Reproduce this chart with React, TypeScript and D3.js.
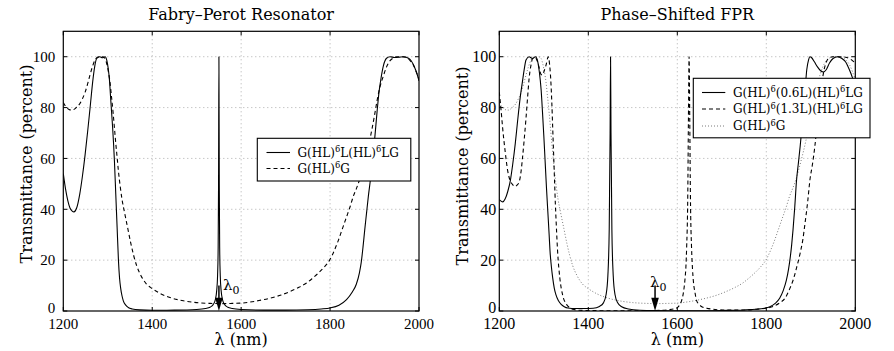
import React from 'react';
import * as d3 from 'd3';

type Pt = [number, number];

const xTicks = [1200, 1400, 1600, 1800, 2000];
const yTicks = [0, 20, 40, 60, 80, 100];
const lambda0 = 1550;

// Left panel: G(HL)^6 L (HL)^6 L G  (solid)
const fprSolid: Pt[] = [
  [1200, 54], [1205, 48], [1210, 43.5], [1215, 40.5], [1220, 39.3], [1224, 39], [1230, 40.5], [1237, 46],
  [1243, 53], [1249, 61.4], [1255, 71], [1260, 79.5], [1267, 91.5], [1271, 96.5], [1275, 99.3], [1282, 100],
  [1288, 99.6], [1294, 100], [1298, 98.5], [1301, 95.4], [1304, 90.5], [1306, 85], [1308.5, 78.5], [1311, 72],
  [1315, 59], [1318, 46], [1321, 33], [1324, 20], [1326.5, 13], [1329, 9], [1332, 6], [1335, 4], [1340, 2.4],
  [1346, 1.4], [1355, 0.8], [1372, 0.45], [1400, 0.3], [1450, 0.35], [1500, 0.6], [1520, 1.0], [1530, 1.5],
  [1537, 2.5], [1542, 4.5], [1545, 8], [1547, 14], [1548.3, 25], [1549.2, 50], [1550, 100], [1550.8, 50],
  [1551.7, 25], [1553, 14], [1555, 8], [1558, 4.5], [1563, 2.5], [1570, 1.5], [1580, 1.0], [1600, 0.6],
  [1650, 0.35], [1700, 0.35], [1750, 0.5], [1780, 0.8], [1800, 1.2], [1820, 2.3], [1837, 4.5], [1850, 7.5],
  [1859, 10.5], [1866, 15], [1870, 19], [1874, 25], [1878, 32], [1882, 38.5], [1886, 45], [1891, 52],
  [1896, 60], [1900, 67], [1906, 79], [1910, 86], [1915, 92], [1920, 96.5], [1927, 99.4], [1935, 100],
  [1945, 99.7], [1955, 99.8], [1965, 100], [1975, 99.5], [1982, 98.5], [1987, 97], [1992, 95], [1996, 93],
  [2000, 90.5],
];

// G(HL)^6 G  (dashed on left, dotted on right)
const mirrorOnly: Pt[] = [
  [1200, 82], [1205, 80.5], [1210, 79.6], [1215, 79.1], [1220, 79], [1225, 79.4], [1230, 80.2], [1237, 81.5],
  [1243, 83.5], [1249, 86], [1255, 89.5], [1260, 92.8], [1265, 95.8], [1271, 98.6], [1276, 99.7], [1282, 100],
  [1288, 100], [1294, 99.3], [1298, 97], [1302, 93.5], [1305, 90], [1308, 85], [1312, 78], [1315, 72],
  [1318, 66], [1321, 60.5], [1324, 55], [1328, 49], [1332, 44], [1338, 38.5], [1345, 32.5], [1352, 26.5],
  [1358, 22], [1365, 17.8], [1375, 13.8], [1387, 10.6], [1400, 8.8], [1420, 6.7], [1440, 5.3], [1470, 4.0],
  [1500, 3.3], [1530, 3.0], [1555, 2.9], [1580, 3.0], [1600, 3.1], [1620, 3.5], [1640, 4.1], [1664, 5.0],
  [1690, 6.3], [1709, 7.6], [1730, 9.3], [1747, 11], [1760, 12.8], [1773, 14.8], [1787, 17.3], [1799, 20],
  [1810, 24], [1818, 27.5], [1828, 32.5], [1837, 37], [1845, 41], [1852, 45], [1860, 48.5], [1867, 52],
  [1878, 59], [1889, 67], [1900, 77], [1906, 83], [1912, 88], [1920, 92.5], [1927, 96], [1935, 98.5],
  [1942, 99.5], [1950, 100], [1960, 100], [1970, 99.8], [1980, 98.5], [1988, 96.5], [1994, 94], [2000, 91],
];

// Right panel: G(HL)^6 (0.6L) (HL)^6 L G  (solid)
const shift06: Pt[] = [
  [1200, 43.8], [1204, 43.2], [1208, 42.9], [1213, 44], [1219, 47], [1225, 51.5], [1230, 57.5], [1236, 66],
  [1241, 74.5], [1247, 84], [1252, 90.2], [1256, 95], [1260, 98.7], [1267, 100], [1271, 99.6], [1275, 99.3],
  [1281, 100], [1285, 99], [1290, 94], [1294, 87], [1297, 78.4], [1300, 69], [1303, 58.8], [1306, 48.5],
  [1309, 39.2], [1312, 30], [1314, 23.5], [1317, 17.5], [1320, 13], [1323.5, 9], [1327, 6.5], [1333, 4],
  [1339, 2.6], [1346, 1.7], [1354, 1.2], [1372, 1.0], [1390, 1.0], [1411, 1.1], [1425, 1.8], [1434, 3.2],
  [1440, 6.5], [1444, 14], [1447, 32], [1449, 70], [1450, 100], [1451, 70], [1453, 32], [1456, 14],
  [1460, 6.5], [1466, 3.2], [1475, 1.7], [1490, 0.8], [1516, 0.3], [1550, 0.15], [1600, 0.1], [1650, 0.1],
  [1700, 0.2], [1750, 0.4], [1778, 0.7], [1795, 1.1], [1808, 1.7], [1820, 3], [1830, 5], [1838, 8],
  [1845, 12], [1850, 16.5], [1853, 20], [1857, 26], [1860, 31.8], [1864, 41], [1868, 51.5], [1872, 58],
  [1876, 64.6], [1880, 72], [1884, 80], [1888, 89], [1891, 95], [1895, 98.8], [1898, 100], [1902, 99.6],
  [1908, 98], [1915, 96], [1922, 94.5], [1928, 94], [1935, 95], [1942, 97.5], [1950, 99.3], [1960, 100],
  [1970, 99.3], [1978, 98], [1984, 96], [1990, 93.5], [1995, 91], [2000, 88.5],
];

// Right panel: G(HL)^6 (1.3L) (HL)^6 L G  (dashed)
const shift13: Pt[] = [
  [1200, 86], [1204, 79], [1207.5, 72], [1213, 63], [1219, 55], [1225, 51], [1230, 49.7], [1235, 49],
  [1240, 49.5], [1245, 51], [1249, 55], [1252, 60], [1256, 67.5], [1260, 75.8], [1264, 85], [1267, 91.5],
  [1271, 96.5], [1275, 99.3], [1281, 99.6], [1286, 98], [1290, 95.4], [1294, 93], [1297, 92.8], [1301, 94.5],
  [1305, 96.7], [1310, 100], [1313, 97], [1315, 92.8], [1318, 82], [1320, 72], [1322, 62], [1324, 52],
  [1326, 42], [1327.5, 36], [1331, 23.5], [1336, 13], [1342, 6.5], [1351, 2.6], [1358, 1.3], [1365, 0.7],
  [1380, 0.3], [1400, 0.2], [1450, 0.1], [1500, 0.1], [1550, 0.2], [1580, 0.5], [1592, 0.8], [1599, 1.2],
  [1605, 2.3], [1610, 4.3], [1614, 7.5], [1617, 12], [1619.5, 18], [1621, 25], [1623.5, 45], [1625, 75],
  [1626.5, 100], [1628, 75], [1629.5, 45], [1632, 25], [1634, 17], [1636, 12], [1640, 7], [1643, 4.3],
  [1650, 2.4], [1656, 1.6], [1666, 1.1], [1685, 0.6], [1703, 0.4], [1750, 0.4], [1778, 0.7], [1800, 1.1],
  [1816, 1.8], [1830, 3.2], [1842, 5], [1852, 8.5], [1860, 12], [1868, 17], [1876, 22.7], [1882, 28],
  [1887, 34.5], [1893, 43], [1898, 51.5], [1904, 58], [1909, 64.6], [1915, 75], [1920, 84], [1925, 90],
  [1930, 95], [1935, 98], [1942, 99.6], [1950, 100], [1965, 100], [1978, 99.8], [1988, 99.2], [1995, 98.3],
  [2000, 97.5],
];

const leftTitle = 'Fabry\u2013Perot Resonator';
const rightTitle = 'Phase\u2013Shifted FPR';
const leftLegend = [
  ['G(HL)', '^6', 'L(HL)', '^6', 'LG'],
  ['G(HL)', '^6', 'G'],
];
const rightLegend = [
  ['G(HL)', '^6', '(0.6L)(HL)', '^6', 'LG'],
  ['G(HL)', '^6', '(1.3L)(HL)', '^6', 'LG'],
  ['G(HL)', '^6', 'G'],
];

const SERIF = '"DejaVu Serif", serif';
const NUM = '"Liberation Serif", "Times New Roman", serif';

type Style = { dash?: string; color: string; width: number };
const solidStyle: Style = { color: '#000', width: 1.1 };
const dashStyle: Style = { color: '#000', width: 1.1, dash: '4,3' };
const dotStyle: Style = { color: '#7a7a7a', width: 1, dash: '1,2' };

function Label({ parts, x, y, size }: { parts: string[]; x: number; y: number; size: number }) {
  const out: React.ReactNode[] = [];
  let shifted = false;
  parts.forEach((p, i) => {
    if (p.startsWith('^')) {
      out.push(<tspan key={i} dy={-4.5} fontSize={size * 0.7}>{p.slice(1)}</tspan>);
      shifted = true;
    } else {
      out.push(<tspan key={i} dy={shifted ? 4.5 : 0}>{p}</tspan>);
      shifted = false;
    }
  });
  return <text x={x} y={y} fontFamily={SERIF} fontSize={size}>{out}</text>;
}

type PanelProps = {
  id: string;
  x0: number; x1: number;
  title: string;
  series: { data: Pt[]; style: Style }[];
  legend: string[][];
  legendStyles: Style[];
  legendBox: [number, number, number, number];
  legendRows: number[];
  legendLine: [number, number];
  legendText: number;
  tickFont: number;
  yLabelGap: number;
  yTitleX: number;
  yTitleCy: number;
  l0LabelX: number;
  l0LabelY: number;
};

function Panel(p: PanelProps) {
  const x = d3.scaleLinear().domain([1200, 2000]).range([p.x0, p.x1]);
  const y = d3.scaleLinear().domain([0, 110]).range([311, 31.3]);
  const line = d3.line<Pt>().x(d => x(d[0])).y(d => y(d[1])).curve(d3.curveMonotoneX);
  const top = y(110), bot = y(0);
  const tl = 4;
  const ax = x(lambda0);
  return (
    <g>
      <defs>
        <clipPath id={`clip-${p.id}`}>
          <rect x={p.x0} y={top} width={p.x1 - p.x0} height={bot - top} />
        </clipPath>
      </defs>
      {xTicks.slice(1, -1).map(t => (
        <line key={'gx' + t} x1={x(t)} x2={x(t)} y1={top} y2={bot} stroke="#999" strokeWidth={0.8} strokeDasharray="1,3" />
      ))}
      {yTicks.slice(1).map(t => (
        <line key={'gy' + t} x1={p.x0} x2={p.x1} y1={y(t)} y2={y(t)} stroke="#999" strokeWidth={0.8} strokeDasharray="1,3" />
      ))}
      <g clipPath={`url(#clip-${p.id})`}>
        {p.series.map((s, i) => (
          <path key={i} d={line(s.data) || ''} fill="none" stroke={s.style.color} strokeWidth={s.style.width}
            strokeDasharray={s.style.dash} strokeLinejoin="round" />
        ))}
      </g>
      {xTicks.map(t => (
        <g key={'tx' + t}>
          <line x1={x(t)} x2={x(t)} y1={bot} y2={bot - tl} stroke="#000" />
          <line x1={x(t)} x2={x(t)} y1={top} y2={top + tl} stroke="#000" />
          <text x={x(t)} y={328.5} textAnchor="middle" fontFamily={NUM} fontSize={p.tickFont}>{t}</text>
        </g>
      ))}
      {yTicks.map(t => (
        <g key={'ty' + t}>
          <line x1={p.x0} x2={p.x0 + tl} y1={y(t)} y2={y(t)} stroke="#000" />
          <line x1={p.x1} x2={p.x1 - tl} y1={y(t)} y2={y(t)} stroke="#000" />
          <text x={p.x0 - p.yLabelGap} y={y(t) - (t === 0 ? 3.5 : 0)} dy="0.35em" textAnchor="end" fontFamily={NUM} fontSize={p.tickFont}>{t}</text>
        </g>
      ))}
      <rect x={p.x0} y={top} width={p.x1 - p.x0} height={bot - top} fill="none" stroke="#000" strokeWidth={1.2} />
      <line x1={ax} x2={ax} y1={y(10)} y2={y(4.5)} stroke="#000" strokeWidth={1.5} />
      <path d={`M${ax - 3.8},${y(5.2)} L${ax + 3.8},${y(5.2)} L${ax},${y(0)} Z`} fill="#000" />
      <text x={p.l0LabelX} y={p.l0LabelY} fontFamily={SERIF} fontSize={15}>
        λ<tspan dy={4} fontSize={11}>0</tspan>
      </text>
      <text x={(p.x0 + p.x1) / 2} y={20} textAnchor="middle" fontFamily={SERIF} fontSize={16}>{p.title}</text>
      <text x={(p.x0 + p.x1) / 2} y={345} textAnchor="middle" fontFamily={SERIF} fontSize={16}>λ (nm)</text>
      <text transform={`translate(${p.yTitleX},${p.yTitleCy}) rotate(-90)`} textAnchor="middle" fontFamily={SERIF} fontSize={16}>
        Transmittance<tspan dx={6}>(percent)</tspan>
      </text>
      <rect x={p.legendBox[0]} y={p.legendBox[1]} width={p.legendBox[2]} height={p.legendBox[3]} fill="#fff" stroke="#000" strokeWidth={1.1} />
      {p.legend.map((parts, i) => (
        <g key={'lg' + i}>
          <line x1={p.legendLine[0]} x2={p.legendLine[1]} y1={p.legendRows[i]} y2={p.legendRows[i]}
            stroke={p.legendStyles[i].color} strokeWidth={p.legendStyles[i].width} strokeDasharray={p.legendStyles[i].dash} />
          <Label parts={parts} x={p.legendText} y={p.legendRows[i] + 4.3} size={12} />
        </g>
      ))}
    </g>
  );
}

export default function App() {
  return (
    <svg width={894} height={351} style={{ position: 'absolute', left: 0, top: 0, background: '#fff' }}>
      <rect width={894} height={351} fill="#fff" />
      <Panel
        id="l" x0={63.3} x1={419} title={leftTitle}
        series={[{ data: mirrorOnly, style: dashStyle }, { data: fprSolid, style: solidStyle }]}
        legend={leftLegend} legendStyles={[solidStyle, dashStyle]}
        legendBox={[257.3, 138.3, 153.5, 42.7]} legendRows={[152.5, 168.5]} legendLine={[266.5, 290]} legendText={297.5}
        tickFont={15} yLabelGap={8} yTitleX={32} yTitleCy={164}
        l0LabelX={223} l0LabelY={290}
      />
      <Panel
        id="r" x0={499.3} x1={855.3} title={rightTitle}
        series={[{ data: mirrorOnly, style: dotStyle }, { data: shift13, style: dashStyle }, { data: shift06, style: solidStyle }]}
        legend={rightLegend} legendStyles={[solidStyle, dashStyle, dotStyle]}
        legendBox={[693.3, 78.3, 176.7, 59.5]} legendRows={[92.5, 109, 126]} legendLine={[702, 725.3]} legendText={733}
        tickFont={16} yLabelGap={3} yTitleX={468} yTitleCy={166}
        l0LabelX={650} l0LabelY={286.5}
      />
    </svg>
  );
}
